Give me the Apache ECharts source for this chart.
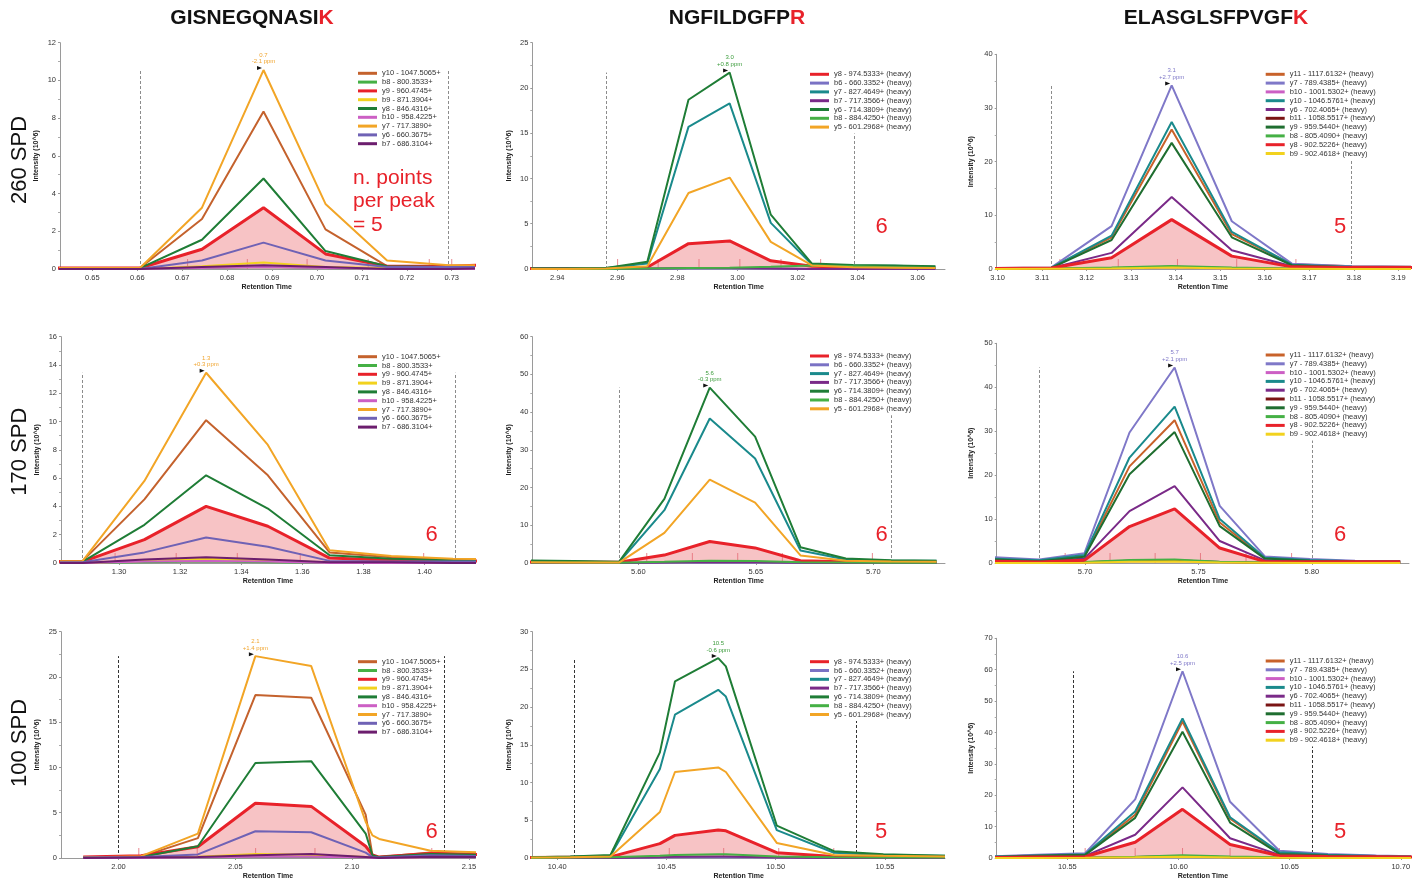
<!DOCTYPE html>
<html><head><meta charset="utf-8">
<script src="https://cdn.jsdelivr.net/npm/echarts@6/dist/echarts.min.js"></script>
<style>html,body{margin:0;padding:0;background:#fff}#c{width:1415px;height:882px}</style>
</head><body><div id="c"></div><script>
// ---------------- DATA ----------------
const peptides = [['GISNEGQNASI', 'K'], ['NGFILDGFP', 'R'], ['ELASGLSFPVGF', 'K']];
const rowLabels = ['260 SPD', '170 SPD', '100 SPD'];
const countLabels = ['n. points\nper peak\n= 5', '6', '5', '6', '6', '6', '6', '5', '5'];
const peakLabels = ['0.7\n-2.1 ppm', '3.0\n+0.8 ppm', '3.1\n+2.7 ppm', '1.3\n+0.3 ppm', '5.6\n-0.3 ppm', '5.7\n+2.1 ppm', '2.1\n+1.4 ppm', '10.5\n-0.6 ppm', '10.6\n+2.5 ppm'];
const yAxisName = 'Intensity (10^6)';
const xAxisName = 'Retention Time';

const ions_c1 = ['y10 - 1047.5065+', 'b8 - 800.3533+', 'y9 - 960.4745+', 'b9 - 871.3904+', 'y8 - 846.4316+', 'b10 - 958.4225+', 'y7 - 717.3890+', 'y6 - 660.3675+', 'b7 - 686.3104+'];
const ions_c2 = ['y8 - 974.5333+ (heavy)', 'b6 - 660.3352+ (heavy)', 'y7 - 827.4649+ (heavy)', 'b7 - 717.3566+ (heavy)', 'y6 - 714.3809+ (heavy)', 'b8 - 884.4250+ (heavy)', 'y5 - 601.2968+ (heavy)'];
const ions_c3 = ['y11 - 1117.6132+ (heavy)', 'y7 - 789.4385+ (heavy)', 'b10 - 1001.5302+ (heavy)', 'y10 - 1046.5761+ (heavy)', 'y6 - 702.4065+ (heavy)', 'b11 - 1058.5517+ (heavy)', 'y9 - 959.5440+ (heavy)', 'b8 - 805.4090+ (heavy)', 'y8 - 902.5226+ (heavy)', 'b9 - 902.4618+ (heavy)'];

// y axis scales (max, step)
const yMax = [12, 25, 40, 16, 60, 50, 25, 30, 70];
const yStep = [2, 5, 10, 2, 10, 10, 5, 5, 10];

// x tick labels
const xt_1 = [0.65, 0.66, 0.67, 0.68, 0.69, 0.70, 0.71, 0.72, 0.73];
const xt_2 = [2.94, 2.96, 2.98, 3.00, 3.02, 3.04, 3.06];
const xt_3 = [3.10, 3.11, 3.12, 3.13, 3.14, 3.15, 3.16, 3.17, 3.18, 3.19];
const xt_4 = [1.30, 1.32, 1.34, 1.36, 1.38, 1.40];
const xt_5 = [5.60, 5.65, 5.70];
const xt_6 = [5.70, 5.75, 5.80];
const xt_7 = [2.00, 2.05, 2.10, 2.15];
const xt_8 = [10.40, 10.45, 10.50, 10.55];
const xt_9 = [10.55, 10.60, 10.65, 10.70];

// Panel 1: 260 SPD, GISNEGQNASIK
const rt_1 = [0.6331, 0.6469, 0.6606, 0.6744, 0.6881, 0.7019, 0.7156, 0.7294, 0.7431];
const p1_y10 = [0.05, 0.05, 0.05, 2.65, 8.35, 2.1, 0.15, 0.15, 0.2];
const p1_b8 = [0, 0, 0, 0.05, 0.1, 0.05, 0, 0, 0];
const p1_y9 = [0.05, 0.05, 0.05, 1.05, 3.25, 0.8, 0.15, 0.15, 0.25];
const p1_b9 = [0, 0, 0, 0.15, 0.35, 0.1, 0.05, 0.05, 0.05];
const p1_y8 = [0, 0, 0.05, 1.55, 4.8, 0.95, 0.15, 0.1, 0.15];
const p1_b10 = [0, 0, 0, 0.05, 0.1, 0.05, 0, 0, 0];
const p1_y7 = [0.05, 0.05, 0.05, 3.25, 10.55, 3.45, 0.45, 0.2, 0.2];
const p1_y6 = [0, 0, 0, 0.45, 1.4, 0.45, 0.1, 0.1, 0.1];
const p1_b7 = [0, 0, 0, 0.1, 0.2, 0.1, 0, 0, 0.05];
const ticks_1 = [0.6712, 0.6845, 0.6978, 0.7114, 0.7250, 0.7300];
const bounds_1 = [0.6606, 0.7292];

// Panel 2: 260 SPD, NGFILDGFPR
const rt_2 = [2.9289, 2.9426, 2.9563, 2.9700, 2.9837, 2.9974, 3.0111, 3.0248, 3.0385, 3.0522, 3.0659];
const p2_y8 = [0.05, 0.05, 0.05, 0.2, 2.8, 3.1, 0.9, 0.3, 0.2, 0.15, 0.15];
const p2_b6 = [0, 0, 0, 0, 0.05, 0.05, 0.05, 0, 0, 0, 0];
const p2_y7 = [0.05, 0.05, 0.1, 0.6, 15.7, 18.3, 5.1, 0.5, 0.35, 0.35, 0.25];
const p2_b7 = [0, 0, 0, 0.05, 0.1, 0.1, 0.05, 0, 0, 0, 0];
const p2_y6 = [0.05, 0.05, 0.1, 0.8, 18.7, 21.7, 6.0, 0.6, 0.45, 0.4, 0.3];
const p2_b8 = [0, 0, 0, 0.05, 0.1, 0.15, 0.25, 0.4, 0.3, 0.2, 0.1];
const p2_y5 = [0, 0, 0.05, 0.3, 8.4, 10.1, 3.0, 0.4, 0.2, 0.15, 0.1];
const ticks_2 = [2.9601, 2.9736, 2.9872, 3.0008, 3.0145, 3.0277];
const bounds_2 = [2.9562, 3.0389];

// Panel 3: 260 SPD, ELASGLSFPVGFK
const rt_3 = [3.0986, 3.1121, 3.1256, 3.1391, 3.1526, 3.1661, 3.1796, 3.1931];
const p3_y11 = [0.15, 0.25, 5.9, 26.0, 6.5, 0.9, 0.5, 0.4];
const p3_y7 = [0.2, 0.3, 8.0, 34.2, 8.9, 1.0, 0.5, 0.4];
const p3_b10 = [0, 0.05, 0.1, 0.3, 0.1, 0.05, 0, 0];
const p3_y10 = [0.15, 0.25, 6.2, 27.4, 6.9, 0.8, 0.4, 0.3];
const p3_y6 = [0.1, 0.2, 3.0, 13.4, 3.5, 0.5, 0.3, 0.3];
const p3_b11 = [0.05, 0.1, 0.15, 0.4, 0.15, 0.05, 0.05, 0.05];
const p3_y9 = [0.1, 0.2, 5.4, 23.5, 5.9, 0.7, 0.3, 0.3];
const p3_b8 = [0.05, 0.1, 0.3, 0.55, 0.3, 0.1, 0.05, 0.05];
const p3_y8 = [0.1, 0.2, 2.1, 9.2, 2.4, 0.4, 0.3, 0.3];
const p3_b9 = [0, 0.05, 0.1, 0.3, 0.1, 0.05, 0, 0];
const ticks_3 = [3.1140, 3.1271, 3.1404, 3.1537, 3.1670];
const bounds_3 = [3.1120, 3.1794];

// Panel 4: 170 SPD, GISNEGQNASIK
const rt_4 = [1.2679, 1.2881, 1.3083, 1.3285, 1.3487, 1.3689, 1.3891, 1.4093, 1.4295];
const p4_y10 = [0.1, 0.15, 4.5, 10.1, 6.2, 0.75, 0.4, 0.25, 0.2];
const p4_b8 = [0, 0, 0.05, 0.1, 0.05, 0, 0, 0, 0];
const p4_y9 = [0.1, 0.1, 1.65, 4.0, 2.6, 0.35, 0.2, 0.15, 0.15];
const p4_b9 = [0, 0, 0.15, 0.3, 0.15, 0.05, 0, 0, 0];
const p4_y8 = [0.05, 0.1, 2.7, 6.2, 3.85, 0.55, 0.3, 0.2, 0.15];
const p4_b10 = [0, 0, 0.1, 0.15, 0.1, 0, 0, 0, 0];
const p4_y7 = [0.1, 0.15, 5.8, 13.45, 8.35, 0.9, 0.5, 0.3, 0.25];
const p4_y6 = [0.05, 0.05, 0.75, 1.8, 1.15, 0.15, 0.1, 0.1, 0.1];
const p4_b7 = [0, 0, 0.25, 0.4, 0.25, 0.05, 0.05, 0, 0];
const ticks_4 = [1.2987, 1.3187, 1.3387, 1.3593, 1.3795, 1.3997];
const bounds_4 = [1.2881, 1.4099];

// Panel 5: 170 SPD, NGFILDGFPR
const rt_5 = [5.5532, 5.5725, 5.5918, 5.6111, 5.6304, 5.6497, 5.6690, 5.6883, 5.7076, 5.7269];
const p5_y8 = [0.3, 0.25, 0.2, 2.1, 5.7, 4.0, 0.6, 0.3, 0.2, 0.2];
const p5_b6 = [0, 0, 0, 0.1, 0.2, 0.15, 0.05, 0, 0, 0];
const p5_y7 = [0.4, 0.3, 0.2, 14.0, 38.3, 27.7, 3.3, 0.9, 0.6, 0.6];
const p5_b7 = [0, 0, 0, 0.1, 0.25, 0.2, 0.05, 0, 0, 0];
const p5_y6 = [0.7, 0.5, 0.3, 17.0, 46.5, 33.5, 4.2, 1.2, 0.7, 0.6];
const p5_b8 = [0.1, 0.1, 0.05, 0.3, 0.6, 0.5, 0.2, 0.1, 0.05, 0.05];
const p5_y5 = [0.2, 0.15, 0.1, 8.0, 22.1, 16.0, 2.0, 0.6, 0.4, 0.3];
const ticks_5 = [5.6036, 5.6230, 5.6423, 5.6613, 5.6996];
const bounds_5 = [5.5918, 5.7075];

// Panel 6: 170 SPD, ELASGLSFPVGFK
const rt_6 = [5.6599, 5.6798, 5.6997, 5.7196, 5.7395, 5.7594, 5.7793, 5.7992, 5.8191, 5.8390];
const p6_y11 = [0.9, 0.5, 1.6, 22.0, 32.5, 9.2, 1.1, 0.6, 0.4, 0.35];
const p6_y7 = [1.3, 0.8, 2.2, 29.7, 44.5, 13.0, 1.5, 0.9, 0.5, 0.4];
const p6_b10 = [0.1, 0.05, 0.1, 0.4, 0.5, 0.2, 0.05, 0.05, 0, 0];
const p6_y10 = [1.0, 0.6, 1.8, 24.0, 35.6, 10.0, 1.2, 0.7, 0.4, 0.35];
const p6_y6 = [0.6, 0.3, 1.0, 11.8, 17.5, 5.0, 0.6, 0.4, 0.3, 0.3];
const p6_b11 = [0.1, 0.05, 0.15, 0.5, 0.6, 0.2, 0.05, 0.05, 0.05, 0.05];
const p6_y9 = [0.8, 0.4, 1.4, 20.2, 29.8, 8.4, 1.0, 0.5, 0.35, 0.3];
const p6_b8 = [0.1, 0.05, 0.2, 0.7, 0.8, 0.3, 0.1, 0.05, 0.05, 0.05];
const p6_y8 = [0.4, 0.2, 0.6, 8.3, 12.3, 3.4, 0.3, 0.3, 0.3, 0.3];
const p6_b9 = [0, 0, 0.05, 0.3, 0.35, 0.1, 0.05, 0, 0, 0];
const ticks_6 = [5.6912, 5.7110, 5.7309, 5.7509, 5.7710, 5.7911];
const bounds_6 = [5.6798, 5.8000];

// Panel 7: 100 SPD, GISNEGQNASIK
const rt_7 = [1.9849, 2.0097, 2.0340, 2.0586, 2.0825, 2.1058, 2.1087, 2.1116, 2.1336, 2.1580];
const p7_y10 = [0.05, 0.15, 2.2, 18.0, 17.7, 4.8, 0.3, 0.1, 0.6, 0.4];
const p7_b8 = [0, 0, 0.05, 0.1, 0.1, 0.05, 0, 0, 0.05, 0.05];
const p7_y9 = [0.1, 0.25, 1.25, 6.05, 5.7, 1.3, 0.35, 0.1, 0.5, 0.35];
const p7_b9 = [0, 0.05, 0.15, 0.45, 0.35, 0.1, 0.05, 0, 0.1, 0.1];
const p7_y8 = [0.05, 0.1, 1.3, 10.5, 10.7, 2.7, 0.3, 0.1, 0.45, 0.35];
const p7_b10 = [0, 0, 0.05, 0.15, 0.15, 0.05, 0, 0, 0.05, 0.05];
const p7_y7 = [0.05, 0.2, 2.7, 22.3, 21.2, 4.0, 2.5, 2.1, 0.8, 0.6];
const p7_y6 = [0.05, 0.1, 0.4, 2.95, 2.85, 0.6, 0.1, 0.05, 0.3, 0.2];
const p7_b7 = [0, 0.05, 0.1, 0.3, 0.45, 0.1, 0.05, 0, 0.15, 0.1];
const ticks_7 = [2.0087, 2.0337, 2.0587, 2.0841, 2.1341];
const bounds_7 = [2.0000, 2.1393];

// Panel 8: 100 SPD, NGFILDGFPR
const rt_8 = [10.3875, 10.4060, 10.4244, 10.4470, 10.4539, 10.4737, 10.4772, 10.5005, 10.5267, 10.5493, 10.5775];
const p8_y8 = [0.05, 0.1, 0.15, 1.9, 3.0, 3.7, 3.6, 0.7, 0.2, 0.2, 0.2];
const p8_b6 = [0, 0, 0, 0.05, 0.1, 0.1, 0.1, 0.05, 0, 0, 0];
const p8_y7 = [0.1, 0.15, 0.3, 11.8, 19.0, 22.3, 21.4, 3.7, 0.7, 0.4, 0.3];
const p8_b7 = [0, 0, 0, 0.1, 0.15, 0.2, 0.2, 0.05, 0, 0, 0];
const p8_y6 = [0.1, 0.2, 0.4, 14.0, 23.4, 26.5, 25.4, 4.3, 0.9, 0.5, 0.3];
const p8_b8 = [0, 0.05, 0.1, 0.3, 0.4, 0.5, 0.5, 0.2, 0.1, 0.05, 0.05];
const p8_y5 = [0.05, 0.1, 0.2, 6.1, 11.4, 12.0, 11.4, 2.0, 0.4, 0.3, 0.2];
const ticks_8 = [10.4256, 10.4513, 10.4762, 10.5014, 10.5266];
const bounds_8 = [10.4078, 10.5371];

// Panel 9: 100 SPD, ELASGLSFPVGFK
const rt_9 = [10.5144, 10.5362, 10.5580, 10.5805, 10.6018, 10.6232, 10.6454, 10.6672, 10.6890, 10.7108];
const p9_y11 = [0.4, 0.8, 1.1, 13.8, 43.5, 12.5, 1.6, 1.0, 0.6, 0.4];
const p9_y7 = [0.5, 1.0, 1.5, 18.7, 59.5, 17.9, 2.3, 1.3, 0.8, 0.5];
const p9_b10 = [0, 0.05, 0.05, 0.2, 0.4, 0.2, 0.05, 0.05, 0.3, 0.05];
const p9_y10 = [0.4, 0.8, 1.2, 14.8, 44.5, 13.0, 1.8, 1.0, 0.6, 0.4];
const p9_y6 = [0.2, 0.5, 0.7, 7.4, 22.5, 6.3, 1.0, 0.6, 0.4, 0.3];
const p9_b11 = [0.05, 0.1, 0.1, 0.3, 0.6, 0.2, 0.1, 0.05, 0.05, 0.05];
const p9_y9 = [0.3, 0.7, 1.0, 12.8, 40.2, 11.3, 1.3, 0.8, 0.5, 0.3];
const p9_b8 = [0.05, 0.1, 0.1, 0.4, 0.9, 0.5, 0.2, 0.1, 0.05, 0.05];
const p9_y8 = [0.1, 0.3, 0.4, 5.0, 15.5, 4.3, 0.7, 0.5, 0.4, 0.3];
const p9_b9 = [0, 0, 0.05, 0.2, 0.4, 0.15, 0.05, 0, 0, 0];
const ticks_9 = [10.5580, 10.5805, 10.6018, 10.6232, 10.6454];
const bounds_9 = [10.5527, 10.6600];

// ---------------- ASSEMBLY ----------------
const panelRT = [rt_1, rt_2, rt_3, rt_4, rt_5, rt_6, rt_7, rt_8, rt_9];
const panelVals = [
  [p1_y10, p1_b8, p1_y9, p1_b9, p1_y8, p1_b10, p1_y7, p1_y6, p1_b7],
  [p2_y8, p2_b6, p2_y7, p2_b7, p2_y6, p2_b8, p2_y5],
  [p3_y11, p3_y7, p3_b10, p3_y10, p3_y6, p3_b11, p3_y9, p3_b8, p3_y8, p3_b9],
  [p4_y10, p4_b8, p4_y9, p4_b9, p4_y8, p4_b10, p4_y7, p4_y6, p4_b7],
  [p5_y8, p5_b6, p5_y7, p5_b7, p5_y6, p5_b8, p5_y5],
  [p6_y11, p6_y7, p6_b10, p6_y10, p6_y6, p6_b11, p6_y9, p6_b8, p6_y8, p6_b9],
  [p7_y10, p7_b8, p7_y9, p7_b9, p7_y8, p7_b10, p7_y7, p7_y6, p7_b7],
  [p8_y8, p8_b6, p8_y7, p8_b7, p8_y6, p8_b8, p8_y5],
  [p9_y11, p9_y7, p9_b10, p9_y10, p9_y6, p9_b11, p9_y9, p9_b8, p9_y8, p9_b9]
];
const panelXT = [xt_1, xt_2, xt_3, xt_4, xt_5, xt_6, xt_7, xt_8, xt_9];
const panelTicks = [ticks_1, ticks_2, ticks_3, ticks_4, ticks_5, ticks_6, ticks_7, ticks_8, ticks_9];
const panelBounds = [bounds_1, bounds_2, bounds_3, bounds_4, bounds_5, bounds_6, bounds_7, bounds_8, bounds_9];
const colIons = [ions_c1, ions_c2, ions_c3];

// ---------------- STYLE / LAYOUT ----------------
const FONT = '"Liberation Sans", Arial, Helvetica, sans-serif';
const colColors = [
  ['#c4622d', '#45b045', '#e8222a', '#f2d21e', '#1f7d36', '#cc5fc4', '#f2a526', '#6f62b5', '#6c1e6e'],
  ['#e8222a', '#7a72c4', '#1a8a8c', '#7a2a88', '#1f7d36', '#45b045', '#f2a526'],
  ['#c8622a', '#7f78c8', '#cc5fc4', '#1a8a8c', '#7a2a88', '#7a1414', '#1f6e30', '#45b045', '#e8222a', '#f2d21e']
];
const colFillIdx = [2, 0, 8];
const colPeakIdx = [6, 4, 1];
const colPeakColor = ['#f0a530', '#3c9c3c', '#7f78c8'];
const layout = [
  {left: 60, top: 42.7, width: 413.3, height: 226.3, xMin: 0.6428, xMax: 0.7348},
  {left: 532.3, top: 42.7, width: 412.7, height: 226.3, xMin: 2.9317, xMax: 3.0691},
  {left: 996.7, top: 54.3, width: 412.3, height: 214.7, xMin: 3.0998, xMax: 3.1924},
  {left: 61, top: 336.7, width: 414, height: 226.3, xMin: 1.2810, xMax: 1.4165},
  {left: 532.3, top: 336.7, width: 412.7, height: 226.3, xMin: 5.5549, xMax: 5.7305},
  {left: 996.7, top: 343.3, width: 412.3, height: 219.7, xMin: 5.6610, xMax: 5.8429},
  {left: 61, top: 631.7, width: 414, height: 226.3, xMin: 1.9754, xMax: 2.1526},
  {left: 532.3, top: 631.7, width: 412.7, height: 226.3, xMin: 10.3886, xMax: 10.5775},
  {left: 996.7, top: 638.3, width: 412.3, height: 219.7, xMin: 10.5182, xMax: 10.7037}
];
const legendPos = [
  [355, 66.9], [807, 67.9], [1262.7, 67.9],
  [355, 350.3], [807, 349.6], [1262.7, 348.6],
  [355, 655.3], [807, 655.3], [1262.7, 654.6]
];
const countPos = [[353, 166.3], [881.7, 226.7], [1340, 226.7], [431.7, 535], [881.7, 535], [1340, 535], [431.7, 832.3], [881, 832.3], [1340, 832.3]];
const titlePos = [[252, 18], [737, 18], [1216, 18]];
const rowPos = [[20, 160], [20, 451.7], [20, 743]];
const boundColor = ['#8c8c8c', '#8c8c8c', '#333333'];

const option = {
  animation: false,
  backgroundColor: '#ffffff',
  textStyle: {fontFamily: FONT},
  grid: [], xAxis: [], yAxis: [], legend: [], series: [], graphic: []
};

for (let i = 0; i < 9; i++) {
  const r = Math.floor(i / 3), c = i % 3;
  const L = layout[i];
  const rt = panelRT[i];
  const vals = panelVals[i];
  const ions = colIons[c];
  const colors = colColors[c];
  option.grid.push({left: L.left, top: L.top, width: L.width, height: L.height, containLabel: false, outerBoundsMode: 'none'});
  option.xAxis.push({
    type: 'value', gridIndex: i, min: L.xMin, max: L.xMax,
    name: xAxisName, nameLocation: 'middle', nameGap: 15,
    nameTextStyle: {fontSize: 7, fontWeight: 'bold', color: '#222', fontFamily: FONT},
    axisLine: {show: true, lineStyle: {color: '#9a9a9a', width: 1}},
    axisTick: {show: true, length: 2, customValues: panelXT[i], lineStyle: {color: '#9a9a9a'}},
    axisLabel: {customValues: panelXT[i], formatter: v => v.toFixed(2), fontSize: 7.5, color: '#333', margin: 5, fontFamily: FONT},
    splitLine: {show: false}
  });
  option.yAxis.push({
    type: 'value', gridIndex: i, min: 0, max: yMax[i], interval: yStep[i],
    name: yAxisName, nameLocation: 'middle', nameGap: c === 2 ? 22 : 20, nameRotate: 90,
    nameTextStyle: {fontSize: 7, fontWeight: 'bold', color: '#222', fontFamily: FONT},
    axisLine: {show: true, lineStyle: {color: '#9a9a9a', width: 1}},
    axisTick: {show: true, length: 2, lineStyle: {color: '#9a9a9a'}},
    minorTick: {show: true, splitNumber: 2, length: 2, lineStyle: {color: '#aaaaaa'}},
    axisLabel: {fontSize: 7.5, color: '#333', margin: 4, fontFamily: FONT},
    splitLine: {show: false}
  });
  option.legend.push({
    z: 20, zlevel: 0,
    orient: 'vertical', left: legendPos[i][0], top: legendPos[i][1],
    padding: [2, 3, 2, 3], backgroundColor: '#ffffff',
    icon: 'rect', itemWidth: 19, itemHeight: 3, itemGap: 0,
    selectedMode: false,
    textStyle: {fontSize: 7.5, color: '#333', lineHeight: 8.8, fontFamily: FONT},
    data: ions.slice()
  });

  // peak height across all ions
  let peakMax = 0;
  vals.forEach(v => v.forEach(x => { if (x > peakMax) peakMax = x; }));

  // fill (area under the quantified ion) with boundary lines
  const fi = colFillIdx[c];
  option.series.push({
    type: 'line', name: 'fill' + i, xAxisIndex: i, yAxisIndex: i, z: 1,
    data: rt.map((t, k) => [t, vals[fi][k]]),
    symbol: 'none', silent: true,
    lineStyle: {width: 0, opacity: 0},
    areaStyle: {color: '#f7c3c5', opacity: 1},
    markLine: {
      z: 1, silent: true, symbol: 'none', label: {show: false},
      lineStyle: {type: [3, 2], color: boundColor[r], width: 1},
      data: panelBounds[i].map(b => [{coord: [b, 0]}, {coord: [b, peakMax]}])
    }
  });
  // scan ticks
  option.series.push({
    type: 'scatter', name: 'scans' + i, xAxisIndex: i, yAxisIndex: i, z: 1,
    data: panelTicks[i].map(t => [t, 0]), silent: true,
    symbol: 'rect', symbolSize: [1, 10], symbolOffset: [0, -5],
    itemStyle: {color: '#e46b76'}
  });
  // ion traces
  const pi = colPeakIdx[c];
  ions.forEach((name, s) => {
    const ser = {
      type: 'line', name: name, xAxisIndex: i, yAxisIndex: i, z: 3,
      data: rt.map((t, k) => [t, vals[s][k]]),
      symbol: 'none', silent: true, clip: true,
      lineStyle: {width: s === fi ? 3 : 2, color: colors[s]},
      itemStyle: {color: colors[s]}
    };
    if (s === pi) {
      let k = 0;
      vals[s].forEach((v, j) => { if (v > vals[s][k]) k = j; });
      ser.markPoint = {
        silent: true,
        data: [{
          coord: [rt[k], vals[s][k]], symbol: 'triangle', symbolSize: [4, 5], symbolRotate: -90, symbolOffset: [-4, -2],
          itemStyle: {color: '#111'},
          label: {show: true, position: 'top', distance: 1, offset: [4, 0], formatter: peakLabels[i], fontSize: 6, lineHeight: 6.5, color: colPeakColor[c], fontFamily: FONT}
        }]
      };
    }
    option.series.push(ser);
  });

  // count annotation
  if (i === 0) {
    option.graphic.push({type: 'text', x: countPos[i][0], y: countPos[i][1], z: 100,
      style: {text: countLabels[i], fill: '#e8222a', fontSize: 21, lineHeight: 23.5, fontFamily: FONT, align: 'left', verticalAlign: 'top'}});
  } else {
    option.graphic.push({type: 'text', x: countPos[i][0], y: countPos[i][1], z: 100,
      style: {text: countLabels[i], fill: '#e8222a', fontSize: 22, fontFamily: FONT, align: 'center', verticalAlign: 'middle'}});
  }
}

peptides.forEach((p, c) => {
  option.graphic.push({type: 'text', x: titlePos[c][0], y: titlePos[c][1], z: 100,
    style: {
      text: '{a|' + p[0] + '}{r|' + p[1] + '}',
      align: 'center', verticalAlign: 'middle',
      fontSize: 21, fontWeight: 'bold', fontFamily: FONT,
      rich: {
        a: {fill: '#111111', fontSize: 21, fontWeight: 'bold', fontFamily: FONT},
        r: {fill: '#e8222a', fontSize: 21, fontWeight: 'bold', fontFamily: FONT}
      }
    }});
});
rowLabels.forEach((t, r) => {
  option.graphic.push({type: 'text', x: rowPos[r][0], y: rowPos[r][1], rotation: Math.PI / 2, z: 100,
    style: {text: t, fill: '#111111', fontSize: 22, fontFamily: FONT, align: 'center', verticalAlign: 'middle'}});
});

const chart = echarts.init(document.getElementById('c'), null, {renderer: 'canvas'});
chart.setOption(option);
</script></body></html>
